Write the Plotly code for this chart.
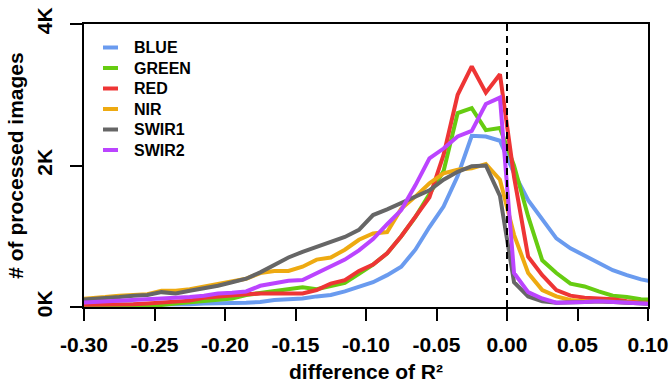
import plotly.graph_objects as go

# bin centres (difference of R²); first/last points lie just outside the axis range and are clipped
x_vals = [-0.305, -0.295, -0.285, -0.275, -0.265, -0.255, -0.245, -0.235, -0.225, -0.215, -0.205,
          -0.195, -0.185, -0.175, -0.165, -0.155, -0.145, -0.135, -0.125, -0.115, -0.105,
          -0.095, -0.085, -0.075, -0.065, -0.055, -0.045, -0.035, -0.025, -0.015, -0.005,
          0.005, 0.015, 0.025, 0.035, 0.045, 0.055, 0.065, 0.075, 0.085, 0.095, 0.105]

blue = [30, 30, 30, 30, 30, 30, 40, 40, 40, 50, 50,
        50, 60, 70, 100, 110, 120, 150, 170, 220, 280,
        350, 450, 570, 810, 1130, 1420, 1850, 2420, 2410, 2350,
        1890, 1510, 1230, 970, 830, 730, 620, 520, 450, 390, 350]
green = [20, 20, 20, 20, 30, 30, 30, 50, 70, 80, 100,
         120, 170, 200, 220, 250, 280, 250, 290, 340, 470,
         600, 760, 1000, 1270, 1600, 1920, 2740, 2810, 2500, 2530,
         2000, 1280, 660, 480, 330, 290, 220, 160, 140, 110, 100]
red = [30, 30, 30, 40, 40, 50, 60, 70, 90, 130, 150,
       160, 180, 190, 190, 180, 190, 240, 330, 380, 510,
       600, 760, 1000, 1280, 1550, 2150, 3000, 3400, 3030, 3290,
       1840, 710, 450, 240, 160, 130, 120, 110, 80, 60, 60]
nir = [110, 120, 140, 160, 170, 180, 230, 230, 250, 290, 330,
       370, 400, 480, 510, 510, 570, 670, 700, 810, 950,
       1040, 1060, 1390, 1560, 1750, 1890, 1940, 1960, 2020, 1800,
       1020, 480, 240, 150, 100, 80, 80, 70, 60, 60, 50]
swir1 = [100, 110, 120, 140, 160, 170, 210, 190, 230, 260, 300,
         350, 400, 490, 590, 700, 780, 850, 920, 990, 1090,
         1300, 1380, 1470, 1560, 1650, 1800, 1910, 1990, 2000, 1570,
         350, 150, 80, 60, 60, 70, 80, 70, 50, 40, 40]
swir2 = [60, 70, 80, 90, 100, 100, 110, 120, 140, 160, 190,
         200, 220, 300, 340, 370, 380, 480, 570, 670, 800,
         960, 1170, 1370, 1720, 2100, 2240, 2410, 2490, 2870, 2960,
         480, 210, 120, 60, 60, 70, 80, 70, 60, 40, 40]

series_names = ["BLUE", "GREEN", "RED", "NIR", "SWIR1", "SWIR2"]
series_colors = ["#6A9BEF", "#66CC11", "#EE3535", "#EEAA11", "#666666", "#BB44FF"]

x_tick_vals = [-0.30, -0.25, -0.20, -0.15, -0.10, -0.05, 0.00, 0.05, 0.10]
x_tick_text = ["-0.30", "-0.25", "-0.20", "-0.15", "-0.10", "-0.05", "0.00", "0.05", "0.10"]
y_tick_vals = [0, 2000, 4000]
y_tick_text = ["0K", "2K", "4K"]

FONT = "Liberation Sans, Arial, sans-serif"
W, H = 670, 383
ML, MR, MT, MB = 84, 22, 24, 76
PW, PH = W - ML - MR, H - MT - MB


def px_to_paper_x(px):
    return (px - ML) / PW


def px_to_paper_y(py):
    return (H - MB - py) / PH


fig = go.Figure()
for name, vals, col in zip(series_names, [blue, green, red, nir, swir1, swir2], series_colors):
    fig.add_trace(go.Scatter(x=x_vals, y=vals, mode="lines", name=name, showlegend=False,
                             line=dict(color=col, width=4)))

fig.add_shape(type="line", xref="x", yref="paper", x0=0, x1=0, y0=0, y1=1,
              line=dict(color="black", width=2, dash="7px,5px"), layer="above")

# legend drawn in the top-left corner of the panel
LEG_Y0, LEG_DY = 47.5, 20.5
for k, (name, col) in enumerate(zip(series_names, series_colors)):
    yy = px_to_paper_y(LEG_Y0 + k * LEG_DY)
    fig.add_shape(type="line", xref="paper", yref="paper",
                  x0=px_to_paper_x(103), x1=px_to_paper_x(118), y0=yy, y1=yy,
                  line=dict(color=col, width=4))
    fig.add_annotation(xref="paper", yref="paper", x=px_to_paper_x(132), y=yy,
                       xanchor="left", yanchor="middle", showarrow=False, text=name,
                       font=dict(family=FONT, size=16, color="black", weight="bold"))

axis_common = dict(showline=True, mirror=True, linecolor="black", linewidth=2,
                   ticks="outside", ticklen=12, tickwidth=2, tickcolor="black",
                   showgrid=False, zeroline=False, automargin=False,
                   tickfont=dict(family=FONT, size=21, color="black", weight="bold"))

fig.update_xaxes(range=[-0.30, 0.10], tickmode="array", tickvals=x_tick_vals, ticktext=x_tick_text,
                 ticklabelstandoff=6,
                 title=dict(text="difference of R²", font=dict(family=FONT, size=21, color="black", weight="bold"),
                            standoff=14),
                 **axis_common)
fig.update_yaxes(range=[0, 4000], tickmode="array", tickvals=y_tick_vals, ticktext=y_tick_text,
                 tickangle=-90, ticklabelstandoff=10,
                 title=dict(text="# of processed images", font=dict(family=FONT, size=21, color="black", weight="bold"),
                            standoff=3),
                 **axis_common)

fig.update_layout(
    width=W, height=H,
    margin=dict(l=ML, r=MR, t=MT, b=MB),
    plot_bgcolor="white", paper_bgcolor="white",
    showlegend=False,
)

fig.write_html("out.html")
